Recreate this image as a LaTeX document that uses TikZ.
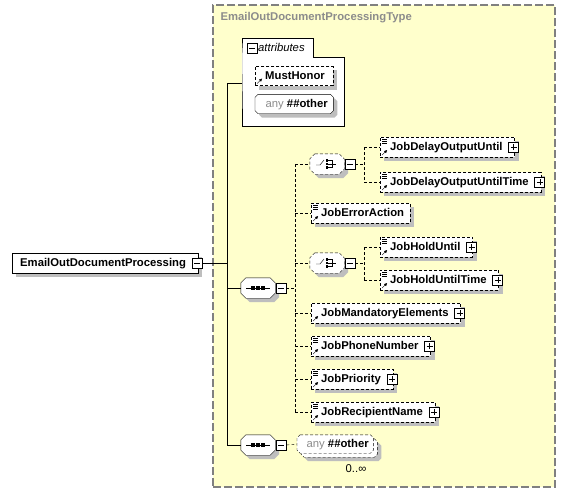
\documentclass[tikz,border=0pt]{standalone}
\usepackage{fontspec}
\setmainfont{Liberation Sans}
\usepackage{tikz}
\usetikzlibrary{fit}
\usetikzlibrary{arrows.meta}
\definecolor{paleyellow}{RGB}{255,255,204}
\definecolor{framegray}{RGB}{128,128,128}
\definecolor{shadowgray}{RGB}{190,190,190}
\definecolor{textgray}{RGB}{140,140,140}

\pgfdeclarelayer{back}
\pgfdeclarelayer{shapes}
\pgfsetlayers{back,shapes,main}

\newcommand{\diagfont}{\fontsize{11.3}{13}\selectfont}
\newcommand{\refarrow}{\draw[solid, -{Latex[length=3pt,width=3pt]}] ([shift={(2,-2)}]path picture bounding box.south west) -- ++(5,-5);}
\newcommand{\txtlines}{\foreach \r in {2,4,6} {\draw[solid] ([shift={(2,\r)}]path picture bounding box.north west) -- ++(5,0);}}
% octagon round node #2, chamfer #3, offset #4
\newcommand{\octagon}[4][]{\draw[#1] ([shift={(#3+#4,-#4)}]#2.north west) -- ([shift={(-#3+#4,-#4)}]#2.north east)
	-- ([shift={(#4,-#3-#4)}]#2.north east) -- ([shift={(#4,#3-#4)}]#2.south east) -- ([shift={(-#3+#4,-#4)}]#2.south east)
	-- ([shift={(#3+#4,-#4)}]#2.south west) -- ([shift={(#4,#3-#4)}]#2.south west) -- ([shift={(#4,-#3-#4)}]#2.north west) -- cycle;}
\newcommand{\boxshade}[1]{\path[fill=shadowgray] ([xshift=4pt,yshift=-4pt]#1.north west) rectangle ([xshift=4pt,yshift=-4pt]#1.south east);}
\newcommand{\seqicon}[1]{\draw ([xshift=-12pt]#1.center) -- ([xshift=12pt]#1.center);
	\foreach \d in {-5,0,5} {\fill ([xshift=\d pt]#1.center) +(-1.6,-1.6) rectangle +(1.6,1.6);}}
\newcommand{\choiceicon}[1]{\draw ([shift={(-11,1)}]#1.center) -- ++(4,0) -- ++(4,-5);
	\foreach \d in {-3.5,0,3.5} {\fill ([shift={(0,\d)}]#1.center) +(-1.3,-1.3) rectangle +(1.3,1.3);}
	\draw ([shift={(1,-3.5)}]#1.center) -| ([shift={(5,3.5)}]#1.center) -- ++(-4,0)
		([shift={(1,0)}]#1.center) -- ++(8,0);}

\tikzset{
	endpad/.initial=12pt,
	elem/.style={draw, densely dashed, fill=white, anchor=west, minimum height=20pt,
		inner xsep=0pt, inner ysep=0pt, font=\diagfont\bfseries, text height=8pt, text depth=2pt,
		execute at begin node={\hspace*{10pt}}, execute at end node={\hspace*{\pgfkeysvalueof{/tikz/endpad}}}},
	noplus/.style={endpad=6pt},
	iconref/.style={path picture={\refarrow}},
	icontxt/.style={path picture={\refarrow \txtlines}},
	pm/.style={draw, solid, line width=0.9pt, fill=white, minimum size=10pt, inner sep=0pt},
	plusbox/.style={pm, path picture={\draw[line width=0.6pt] ([xshift=-3pt]path picture bounding box.center) -- ([xshift=3pt]path picture bounding box.center)
		([yshift=-3pt]path picture bounding box.center) -- ([yshift=3pt]path picture bounding box.center);}},
	minusbox/.style={pm, path picture={\draw[line width=0.6pt] ([xshift=-3pt]path picture bounding box.center) -- ([xshift=3pt]path picture bounding box.center);}},
	octo/.style={inner sep=0pt, minimum width=34pt, minimum height=20pt},
	wild/.style={anchor=west, inner xsep=0pt, inner ysep=0pt, font=\diagfont, text height=8pt, text depth=2pt},
	link/.style={densely dashed},
	spine/.style={draw=black},
}

\begin{document}
\begin{tikzpicture}[x=1pt, y=-1pt, font=\diagfont]
	\useasboundingbox (0,0) rectangle (566,493);

	\node[anchor=west, text=textgray, font=\diagfont\bfseries] (typename) at (217,18) {EmailOutDocumentProcessingType};
	\node[draw, fill=white, anchor=west, minimum height=20pt, inner xsep=0pt, font=\diagfont\bfseries,
		text height=8pt, text depth=2pt, execute at begin node={\hspace*{8pt}}, execute at end node={\hspace*{12pt}}]
		(root) at (12,263) {EmailOutDocumentProcessing};
	\node[minusbox] (rootm) at ([xshift=-1pt]root.east) {};

	\node[fit={(242,38) (313,57)}, inner sep=0pt] (attrtab) {};	% attributes
	\node[fit={(242,57) (344,126)}, inner sep=0pt] (attrs) {};
	\node[draw, fill=white, minimum size=10pt, inner sep=0pt, path picture={\draw ([xshift=-3pt]path picture bounding box.center)
		-- ([xshift=3pt]path picture bounding box.center);}] (attrm) at (252,48) {};
	\node[anchor=west, font=\diagfont\itshape, inner sep=0pt] (attrlabel) at (258,47) {attributes};
	\node[elem, iconref, minimum height=19pt, endpad=8pt] (musthonor) at (255,76) {MustHonor};
	\node[wild, minimum width=78pt, minimum height=19pt] (anyattr) at (255,104)
		{\hspace*{5pt}{\color{textgray}any}\ \textbf{\#\#other}};

	\coordinate (spinetop) at (227,83);
	\coordinate (spinebot) at (227,445);
	\node[octo] (seqa) at (258,288) {};	% sequences
	\node[minusbox] (seqam) at (281,288) {};
	\node[octo] (seqb) at (258,445) {};
	\node[minusbox] (seqbm) at (281,445) {};
	\seqicon{seqa}
	\seqicon{seqb}
	\draw[spine] (rootm.east) -- (rootm.east -| spinetop);
	\draw[spine] (attrs.west |- spinetop) -- (spinetop) -- (spinebot) -- (seqb.west);
	\draw[spine] (seqa.west -| spinetop) -- (seqa.west);

	\node[octo] (cha) at (327,164) {};	% choices
	\node[minusbox] (cham) at (350,164) {};
	\node[octo] (chb) at (327,263) {};
	\node[minusbox] (chbm) at (350,263) {};
	\choiceicon{cha}
	\choiceicon{chb}

	\node[elem, icontxt] (delay) at (380,147) {JobDelayOutputUntil};
	\node[plusbox] (delayp) at ([xshift=-1pt]delay.east) {};
	\node[elem, icontxt] (delaytime) at (380,182) {JobDelayOutputUntilTime};
	\node[plusbox] (delaytimep) at ([xshift=-1pt]delaytime.east) {};
	\node[elem, icontxt, noplus] (error) at (311,213) {JobErrorAction};
	\node[elem, icontxt] (hold) at (380,247) {JobHoldUntil};
	\node[plusbox] (holdp) at ([xshift=-1pt]hold.east) {};
	\node[elem, icontxt] (holdtime) at (380,280) {JobHoldUntilTime};
	\node[plusbox] (holdtimep) at ([xshift=-1pt]holdtime.east) {};
	\node[elem, iconref] (mandatory) at (311,313) {JobMandatoryElements};
	\node[plusbox] (mandatoryp) at ([xshift=-1pt]mandatory.east) {};
	\node[elem, icontxt] (phone) at (311,346) {JobPhoneNumber};
	\node[plusbox] (phonep) at ([xshift=-1pt]phone.east) {};
	\node[elem, icontxt] (priority) at (311,379) {JobPriority};
	\node[plusbox] (priorityp) at ([xshift=-1pt]priority.east) {};
	\node[elem, icontxt] (recipient) at (311,412) {JobRecipientName};
	\node[plusbox] (recipientp) at ([xshift=-1pt]recipient.east) {};

	\coordinate (seqbus) at (295,288);
	\coordinate (chabus) at (364,164);
	\coordinate (chbbus) at (364,263);
	\draw[link] (seqam.east) -- (seqbus);
	\draw[link] (seqbus |- cha.west) -- (seqbus |- recipient.west);
	\foreach \n in {cha, error, chb, mandatory, phone, priority, recipient}
		\draw[link] (seqbus |- \n.west) -- (\n.west);
	\draw[link] (cham.east) -- (chabus);
	\draw[link] (chabus |- delay.west) -- (chabus |- delaytime.west);
	\draw[link] (chabus |- delay.west) -- (delay.west);
	\draw[link] (chabus |- delaytime.west) -- (delaytime.west);
	\draw[link] (chbm.east) -- (chbbus);
	\draw[link] (chbbus |- hold.west) -- (chbbus |- holdtime.west);
	\draw[link] (chbbus |- hold.west) -- (hold.west);
	\draw[link] (chbbus |- holdtime.west) -- (holdtime.west);

	\node[wild, minimum width=76pt, minimum height=18pt] (anyback) at (301,448) {};	% wildcard
	\node[wild, minimum width=76pt, minimum height=18pt] (anyelem) at (297,444)
		{\hspace*{5pt}{\color{textgray}any}\ \textbf{\#\#other}};
	\node (occurs) at (356,469) {0..∞};
	\draw[link] (seqbm.east) -- (anyelem.west);

	\begin{pgfonlayer}{back}
		\node[draw=framegray, dash pattern=on 8pt off 3pt, line width=1.2pt, fill=paleyellow,
			fit={(213,5) (555,487)}, inner sep=0pt] (typebox) {};
		\draw[fill=white] (attrtab.south west) |- (attrtab.north east) |- (attrs.north east) |- (attrs.south west) -- cycle;
		\boxshade{root}
		\boxshade{musthonor}
		\boxshade{delay}
		\boxshade{delaytime}
		\boxshade{error}
		\boxshade{hold}
		\boxshade{holdtime}
		\boxshade{mandatory}
		\boxshade{phone}
		\boxshade{priority}
		\boxshade{recipient}
		\foreach \n in {seqa, seqb, cha, chb} {\octagon[draw=none, fill=shadowgray]{\n}{5pt}{4pt}}
		\octagon[draw=none, fill=shadowgray]{anyattr}{3pt}{4pt}
		\octagon[draw=none, fill=shadowgray]{anyback}{3pt}{4pt}
	\end{pgfonlayer}
	\begin{pgfonlayer}{shapes}
		\foreach \n in {seqa, seqb} {\octagon[fill=white]{\n}{5pt}{0pt}}
		\foreach \n in {cha, chb} {\octagon[fill=white, densely dashed]{\n}{5pt}{0pt}}
		\octagon[fill=white]{anyattr}{3pt}{0pt}
		\octagon[fill=white, densely dashed]{anyback}{3pt}{0pt}
		\octagon[fill=white, densely dashed]{anyelem}{3pt}{0pt}
	\end{pgfonlayer}
\end{tikzpicture}
\end{document}
